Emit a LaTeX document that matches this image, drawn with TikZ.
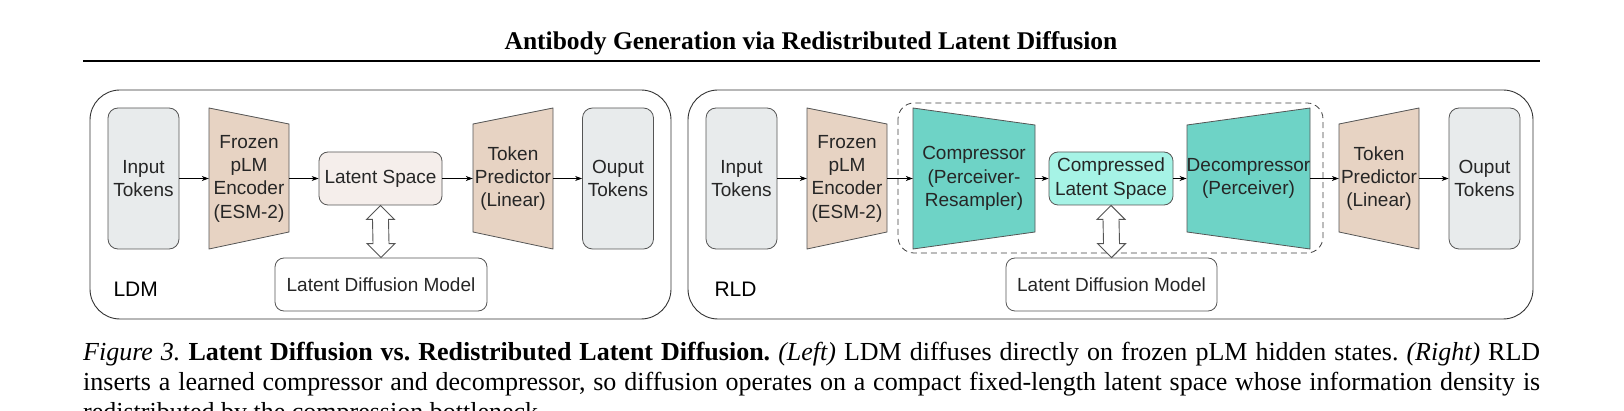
\documentclass[tikz,border=0pt]{standalone}
\usepackage{fontspec}
\setmainfont{Liberation Serif}
\setsansfont{Liberation Sans}
\usetikzlibrary{calc,arrows.meta}
\definecolor{tokgray}{HTML}{E8EBEC}
\definecolor{tan}{HTML}{E7D3C3}
\definecolor{latent}{HTML}{F5EEEB}
\definecolor{teal}{HTML}{6ED3C6}
\definecolor{cyanl}{HTML}{A6F3E6}
\definecolor{edge}{HTML}{555555}
\begin{document}
\frenchspacing
\begin{tikzpicture}[x=1pt,y=-1pt,
  lbl/.style={font=\sffamily\fontsize{19}{23.3}\selectfont,align=center,text=black!85},
  tok/.style={lbl,draw=edge,fill=tokgray,rounded corners=10pt,minimum width=71pt,minimum height=141pt,inner sep=0pt,line width=0.8pt},
  box/.style={lbl,draw=edge,rounded corners=9pt,inner sep=0pt,line width=0.8pt},
  trap/.style={draw=edge,line width=0.8pt},
  hold/.style={lbl,inner sep=0pt,minimum height=141pt},
  panel/.style={draw=black!80,rounded corners=30pt,line width=0.9pt},
  conn/.style={-{Stealth[length=7pt,width=5pt]},line width=0.8pt},
  dbl/.style={draw=edge,fill=white,line width=0.9pt}]
\useasboundingbox (0,0) rectangle (1624,411);
\clip (0,0) rectangle (1624,411);
% title
\node (title) [font=\bfseries\fontsize{25.5}{30}\selectfont,anchor=base] at (811,50) {Antibody Generation via Redistributed Latent Diffusion};
\draw[line width=2pt] (83,61) -- (1540,61);
% panels
\draw[panel] (90,90) rectangle (671,319);
\draw[panel] (688,90) rectangle (1533,319);
\node[font=\sffamily\fontsize{21}{24}\selectfont,anchor=base west] (ldmlab) at (110,297) {LDM};
\node[font=\sffamily\fontsize{21}{24}\selectfont,anchor=base west] (rldlab) at (711,297) {RLD};
% ---------- left
\node[tok] (in1) at (143.5,178.5) {Input\\Tokens};
\draw[trap,fill=tan] (209,108) -- (289,124) -- (289,232) -- (209,249) -- cycle;
\node[hold,minimum width=80pt] (enc1) at (249,178.5) {Frozen\\pLM\\Encoder\\(ESM-2)};
\node[box,fill=latent,minimum width=123pt,minimum height=53pt] (ls1) at (380.5,178.5) {Latent Space};
\draw[trap,fill=tan] (473,124) -- (553,108) -- (553,249) -- (473,232) -- cycle;
\node[hold,minimum width=80pt] (tp1) at (513,178.5) {Token\\Predictor\\(Linear)};
\node[tok] (out1) at (618,178.5) {Ouput\\Tokens};
\node[box,fill=white,minimum width=212pt,minimum height=53pt] (ldm1) at (381,284.5) {Latent Diffusion Model};
\draw[conn] (in1.east) -- (enc1.west);
\draw[conn] (enc1.east) -- (ls1.west);
\draw[conn] (ls1.east) -- (tp1.west);
\draw[conn] (tp1.east) -- (out1.west);
\draw[dbl] (ls1.south) -- ($(ls1.south)+(14,14)$) -- ($(ls1.south)+(8,14)$) -- ($(ldm1.north)+(8,-14)$) -- ($(ldm1.north)+(14,-14)$) -- (ldm1.north) -- ($(ldm1.north)+(-14,-14)$) -- ($(ldm1.north)+(-8,-14)$) -- ($(ls1.south)+(-8,14)$) -- ($(ls1.south)+(-14,14)$) -- cycle;
% ---------- right
\draw[dash pattern=on 6pt off 4pt,line width=0.8pt,draw=black!75,rounded corners=16pt] (898,103) rectangle (1323,253);
\node[tok] (in2) at (741.5,178.5) {Input\\Tokens};
\draw[trap,fill=tan] (807,108) -- (887,124) -- (887,232) -- (807,249) -- cycle;
\node[hold,minimum width=80pt] (enc2) at (847,178.5) {Frozen\\pLM\\Encoder\\(ESM-2)};
\draw[trap,fill=teal] (913,108) -- (1035,125) -- (1035,232) -- (913,249) -- cycle;
\node[hold,minimum width=122pt] (cmp) at (974,178.5) {Compressor\\(Perceiver-\\Resampler)};
\node[box,fill=cyanl,minimum width=124pt,minimum height=53pt] (ls2) at (1111,178.5) {Compressed\\Latent Space};
\draw[trap,fill=teal] (1187,125) -- (1310,108) -- (1310,249) -- (1187,232) -- cycle;
\node[hold,minimum width=123pt] (dec) at (1248.5,178.5) {Decompressor\\(Perceiver)};
\draw[trap,fill=tan] (1339,124) -- (1419,108) -- (1419,249) -- (1339,232) -- cycle;
\node[hold,minimum width=80pt] (tp2) at (1379,178.5) {Token\\Predictor\\(Linear)};
\node[tok] (out2) at (1484.5,178.5) {Ouput\\Tokens};
\node[box,fill=white,minimum width=211pt,minimum height=53pt] (ldm2) at (1111.5,284.5) {Latent Diffusion Model};
\draw[conn] (in2.east) -- (enc2.west);
\draw[conn] (enc2.east) -- (cmp.west);
\draw[conn] (cmp.east) -- (ls2.west);
\draw[conn] (ls2.east) -- (dec.west);
\draw[conn] (dec.east) -- (tp2.west);
\draw[conn] (tp2.east) -- (out2.west);
\draw[dbl] (ls2.south) -- ($(ls2.south)+(14,14)$) -- ($(ls2.south)+(8,14)$) -- ($(ldm2.north)+(8,-14)$) -- ($(ldm2.north)+(14,-14)$) -- (ldm2.north) -- ($(ldm2.north)+(-14,-14)$) -- ($(ldm2.north)+(-8,-14)$) -- ($(ls2.south)+(-8,14)$) -- ($(ls2.south)+(-14,14)$) -- cycle;
% caption
\node (cap) [anchor=north west,inner sep=0pt,text width=1457pt,align=justify,font=\fontsize{26}{30}\selectfont] at (83,342) {\textit{Figure 3.} \textbf{Latent Diffusion vs. Redistributed Latent Diffusion.} \textit{(Left)} LDM diffuses directly on frozen pLM hidden states. \textit{(Right)} RLD\linebreak inserts a learned compressor and decompressor, so diffusion operates on a compact fixed-length latent space whose information density is\linebreak redistributed by the compression bottleneck.};
\end{tikzpicture}
\end{document}
